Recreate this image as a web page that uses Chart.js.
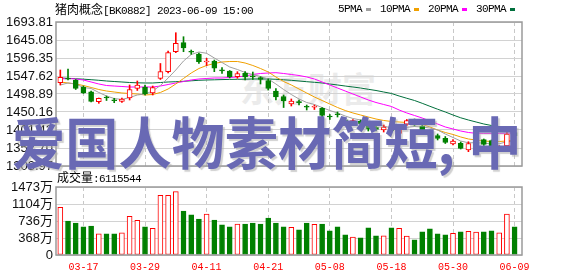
<!DOCTYPE html>
<html><head><meta charset="utf-8">
<script src="https://cdn.jsdelivr.net/npm/chart.js@4.4.0/dist/chart.umd.min.js"></script>
<style>
html,body{margin:0;padding:0;background:#fff;width:578px;height:276px;overflow:hidden}
#wrap{position:relative;width:578px;height:276px;background:#fff}
canvas{position:absolute;left:0;top:0}
.t{position:absolute;white-space:nowrap;color:#000;font-size:12px;line-height:12px}
.cjk{font-family:"Noto Sans CJK SC";font-size:12px}
.asc{font-family:"Liberation Mono";font-size:11px;letter-spacing:-0.6px}
#wm{position:absolute;left:240px;top:70px;font:bold 34px/36px "Noto Sans CJK SC";color:#ebebeb;white-space:nowrap}
#big{position:absolute;left:12px;top:112px;font:bold 56px/56px "Noto Sans CJK SC";color:#6969b4;white-space:nowrap;text-shadow:2px 2px 1px rgba(170,170,170,0.55);transform:scaleX(0.95);transform-origin:0 0}
#legend{position:absolute;left:338px;top:3px;display:flex;align-items:center;height:12px}
#legend .sq{display:inline-block;width:5px;height:3px;margin:0 9px 0 4px}
</style></head>
<body><div id="wrap">
<div id="wm">东方财富</div>
<canvas id="c1" width="578" height="276"></canvas>
<canvas id="c2" width="578" height="276"></canvas>
<div class="t" style="left:55px;top:3px"><span class="cjk" id="tname"></span><span class="asc" id="tcode"></span></div>
<div id="legend"></div>
<div class="t" style="left:57px;top:171px"><span class="cjk">成交量</span><span class="asc" id="vtot"></span></div>
<div id="big">爱国人物素材简短<span style="margin-right:14px">,</span>中</div>
</div>
<script>
const stockName = '猪肉概念';
const stockCode = '[BK0882]';
const stamp = '2023-06-09 15:00';
const totalVolume = 6115544;

const dates = ['03-14','03-15','03-16','03-17','03-20','03-21','03-22','03-23','03-24','03-27',
 '03-28','03-29','03-30','03-31','04-03','04-04','04-06','04-07','04-10','04-11',
 '04-12','04-13','04-14','04-17','04-18','04-19','04-20','04-21','04-24','04-25',
 '04-26','04-27','04-28','05-04','05-05','05-08','05-09','05-10','05-11','05-12',
 '05-15','05-16','05-17','05-18','05-19','05-22','05-23','05-24','05-25','05-26',
 '05-29','05-30','05-31','06-01','06-02','06-05','06-06','06-07','06-08','06-09'];

const opens = [1529.5,1539.5,1536.8,1517.8,1505.1,1478.1,1488.9,1481.3,1479.1,1488.1,
 1513.8,1517.8,1501.6,1541.4,1559.3,1613.4,1637.8,1613.1,1607.2,1585.5,
 1588.2,1562.5,1561.2,1545.7,1554.9,1546.3,1543.6,1535.4,1507.0,1492.1,
 1471.8,1476.4,1463.7,1462.9,1460.2,1438.0,1443.4,1427.1,1420.3,1425.8,
 1419.0,1409.6,1401.4,1412.3,1392.0,1416.9,1428.5,1412.3,1398.7,1386.6,
 1379.1,1363.5,1365.4,1347.3,1367.0,1375.7,1373.0,1354.1,1358.1,1394.6];
const highs = [1563.9,1566.6,1538.2,1520.5,1507.0,1488.1,1493.5,1487.3,1488.1,1523.3,
 1534.1,1523.3,1520.5,1581.5,1615.3,1664.8,1654.0,1618.0,1609.9,1595.5,
 1590.9,1570.1,1562.5,1559.3,1559.3,1558.4,1545.7,1539.5,1513.8,1496.2,
 1485.4,1482.7,1469.1,1469.1,1462.3,1443.4,1450.2,1433.1,1429.9,1428.5,
 1423.1,1415.0,1415.0,1415.0,1409.6,1429.9,1431.2,1415.0,1401.4,1390.6,
 1383.8,1375.7,1368.9,1369.7,1381.1,1377.1,1374.4,1359.5,1396.0,1400.1];
const lows = [1523.3,1536.8,1511.1,1500.3,1477.2,1473.7,1481.3,1475.3,1475.9,1482.7,
 1508.4,1496.2,1496.2,1538.2,1555.7,1610.7,1613.4,1606.4,1581.5,1576.0,
 1559.3,1554.9,1542.2,1541.4,1536.8,1538.2,1526.0,1509.7,1482.7,1462.3,
 1466.4,1469.1,1455.6,1456.9,1428.5,1429.9,1436.6,1419.0,1417.7,1412.3,
 1398.7,1398.7,1396.0,1393.3,1387.9,1413.6,1412.3,1398.7,1383.8,1374.4,
 1364.9,1360.8,1350.0,1342.7,1366.2,1359.5,1355.4,1351.9,1355.4,1379.8];
const closes = [1544.1,1538.7,1514.3,1501.6,1478.6,1487.3,1488.1,1480.5,1485.4,1511.1,
 1523.3,1498.9,1516.5,1559.3,1610.7,1636.2,1623.4,1612.0,1586.3,1586.9,
 1568.5,1561.7,1545.0,1554.4,1545.0,1545.5,1538.2,1514.3,1490.8,1480.0,
 1480.0,1475.6,1462.9,1463.7,1440.7,1436.6,1442.6,1426.3,1427.1,1417.7,
 1404.1,1402.8,1409.6,1398.7,1406.9,1427.1,1415.0,1401.4,1387.1,1378.4,
 1367.6,1371.6,1351.9,1364.9,1379.8,1362.2,1358.1,1356.7,1390.6,1385.2];
// volume in 万
const volumes = [1031,736,693,608,629,457,457,457,479,837,
 751,608,580,1294,1294,1374,951,872,779,887,
 758,651,608,672,672,693,672,801,693,608,
 601,543,693,665,672,522,608,436,386,372,
 586,415,415,586,579,408,329,501,565,457,
 436,472,501,515,494,501,522,479,887,611.6];

const ma5 = [1523.3,1528.7,1526.0,1516.5,1513.8,1503.0,1493.5,1486.7,1484.0,1489.4,
 1496.2,1498.9,1507.0,1521.9,1542.2,1563.9,1588.2,1605.8,1612.6,1609.1,
 1596.4,1584.2,1572.0,1565.2,1557.1,1551.7,1546.3,1539.5,1526.0,1511.1,
 1497.5,1485.4,1475.9,1470.5,1462.3,1454.2,1447.5,1439.3,1432.6,1428.5,
 1423.1,1416.3,1412.3,1406.8,1404.7,1408.7,1410.9,1409.6,1406.8,1401.4,
 1390.6,1381.1,1371.6,1366.8,1367.0,1366.0,1363.5,1364.3,1369.5,1370.6];
const ma10 = [1531.4,1528.7,1526.0,1521.9,1516.5,1511.1,1507.0,1504.3,1501.6,1500.3,
 1498.9,1496.2,1497.5,1503.0,1512.4,1526.0,1540.9,1555.7,1567.9,1576.1,
 1581.5,1585.5,1586.9,1586.9,1582.8,1576.1,1567.9,1558.5,1544.9,1532.7,
 1523.3,1512.4,1501.6,1490.8,1481.3,1471.8,1462.4,1454.2,1447.5,1442.0,
 1436.6,1431.2,1427.2,1424.4,1423.1,1421.7,1420.4,1416.3,1409.6,1401.4,
 1394.7,1389.3,1382.5,1377.1,1374.4,1371.7,1370.3,1370.3,1371.7,1373.0];
const ma20 = [1539.5,1540.9,1539.5,1536.8,1531.4,1526.0,1521.9,1520.5,1519.2,1517.8,
 1517.8,1517.8,1517.8,1520.5,1524.6,1528.7,1532.7,1536.8,1539.5,1540.9,
 1542.2,1542.2,1543.6,1545.0,1547.6,1551.7,1554.4,1555.7,1556.6,1554.4,
 1551.7,1549.0,1545.0,1539.5,1531.4,1523.3,1515.1,1507.0,1498.9,1490.8,
 1482.7,1475.9,1470.5,1465.1,1455.6,1447.5,1440.7,1433.9,1425.8,1417.7,
 1409.6,1404.1,1398.7,1394.7,1392.5,1392.0,1392.0,1392.0,1392.5,1392.5];
const ma30 = [1542.2,1541.4,1540.3,1539.0,1537.6,1536.0,1534.1,1532.7,1531.4,1530.0,
 1529.2,1528.7,1528.7,1530.0,1531.4,1532.2,1533.3,1534.6,1536.0,1536.8,
 1537.3,1537.9,1538.4,1538.7,1539.0,1539.5,1539.5,1539.5,1538.7,1537.3,
 1536.0,1534.1,1532.2,1530.6,1528.7,1526.0,1523.3,1520.5,1517.8,1515.1,
 1511.6,1508.4,1504.3,1500.3,1493.5,1487.3,1481.3,1473.7,1465.6,1457.7,
 1450.2,1442.0,1434.5,1428.5,1423.1,1417.7,1413.6,1410.9,1409.6,1409.6];

const maNames = ['5PMA','10PMA','20PMA','30PMA'];
const maSeries = [ma5, ma10, ma20, ma30];
const maColors = ['#a0a0a0','#f0a000','#ff00ff','#006f3c'];
const priceTicks = [1303.97,1352.70,1401.43,1450.16,1498.89,1547.62,1596.35,1645.08,1693.81];
const volTicks = [0,368,736,1104,1473];
const xTickIdx = [3,11,19,27,35,43,51,59];

const UP = '#ff0000', DOWN = '#008000';
const isUp = i => closes[i] >= opens[i];
const edge = c => isUp(c.dataIndex) ? UP : DOWN;
const fill = c => isUp(c.dataIndex) ? '#ffffff' : DOWN;

document.getElementById('tname').textContent = stockName;
document.getElementById('tcode').textContent = stockCode + ' ' + stamp;
document.getElementById('vtot').textContent = ':' + totalVolume;
const lg = document.getElementById('legend');
maNames.forEach((n, k) => {
  const s = document.createElement('span'); s.className = 'asc'; s.textContent = n; lg.appendChild(s);
  const q = document.createElement('span'); q.className = 'sq'; q.style.background = maColors[k]; lg.appendChild(q);
});

const boxPlugin = {id:'box', afterDraw(chart){
  const {ctx, chartArea:a} = chart;
  ctx.save(); ctx.strokeStyle = '#9a9a9a'; ctx.lineWidth = 1.5;
  ctx.strokeRect(a.left, a.top, a.right - a.left, a.bottom - a.top);
  ctx.restore();
}};

const xMin = -0.56, xMax = 59.96;
const tickFont = {family:'Liberation Sans, Noto Sans CJK SC', size:13};

new Chart(document.getElementById('c1'), {
  type:'bar',
  data:{datasets:[
    ...maSeries.map((arr,k) => ({type:'line', label:maNames[k], data:arr.map((v,i)=>({x:i,y:v})),
      borderColor:maColors[k], borderWidth:1, pointRadius:0, tension:0, order:10})),
    {type:'bar', label:'wick', data:highs.map((h,i)=>({x:i,y:[lows[i],h]})), backgroundColor:edge,
      borderWidth:0, barThickness:1, grouped:false, order:3},
    {type:'bar', label:'body', data:opens.map((o,i)=>({x:i,y:[o,closes[i]]})), backgroundColor:fill,
      borderColor:edge, borderWidth:1, borderSkipped:false, barThickness:5, minBarLength:1, grouped:false, order:2}
  ]},
  options:{responsive:false, animation:false, events:[],
    layout:{padding:{top:22,right:56,bottom:110,left:0}},
    plugins:{legend:{display:false}, tooltip:{enabled:false}},
    scales:{
      x:{type:'linear', min:xMin, max:xMax, offset:false,
        afterBuildTicks:s=>{s.ticks = xTickIdx.map(v=>({value:v}));},
        ticks:{display:false, autoSkip:false}, grid:{color:'#c8c8c8', drawTicks:false, offset:false},
        border:{display:false, dash:[4,3]}, afterFit:s=>{s.height=0;}},
      y:{min:priceTicks[0], max:priceTicks[priceTicks.length-1],
        afterBuildTicks:s=>{s.ticks = priceTicks.map(v=>({value:v}));},
        ticks:{callback:v=>Number(v).toFixed(2), font:tickFont, color:'#111', padding:3, autoSkip:false},
        grid:{color:'#d2d2d2', drawTicks:false}, border:{display:false},
        afterFit:s=>{s.width=56;}}
    }
  },
  plugins:[boxPlugin]
});

new Chart(document.getElementById('c2'), {
  type:'bar',
  data:{datasets:[
    {label:'成交量', data:volumes.map((v,i)=>({x:i,y:v})), backgroundColor:fill, borderColor:edge,
      borderWidth:1, borderSkipped:false, barThickness:5}
  ]},
  options:{responsive:false, animation:false, events:[],
    layout:{padding:{top:187,right:56,bottom:0,left:0}},
    plugins:{legend:{display:false}, tooltip:{enabled:false}},
    scales:{
      x:{type:'linear', min:xMin, max:xMax, offset:false,
        afterBuildTicks:s=>{s.ticks = xTickIdx.map(v=>({value:v}));},
        ticks:{callback:v=>dates[v], color:'#ff0000', font:{family:'Liberation Mono', size:10}, padding:6, maxRotation:0, autoSkip:false},
        grid:{color:'#c8c8c8', drawTicks:false, offset:false},
        border:{display:false, dash:[4,3]}, afterFit:s=>{s.height=21;}},
      y:{min:volTicks[0], max:volTicks[volTicks.length-1],
        afterBuildTicks:s=>{s.ticks = volTicks.map(v=>({value:v}));},
        ticks:{callback:v=>v===0?'0':v+'万', font:tickFont, color:'#111', padding:3, autoSkip:false},
        grid:{color:'#d2d2d2', drawTicks:false}, border:{display:false},
        afterFit:s=>{s.width=56;}}
    }
  },
  plugins:[boxPlugin]
});
</script>
</body></html>
